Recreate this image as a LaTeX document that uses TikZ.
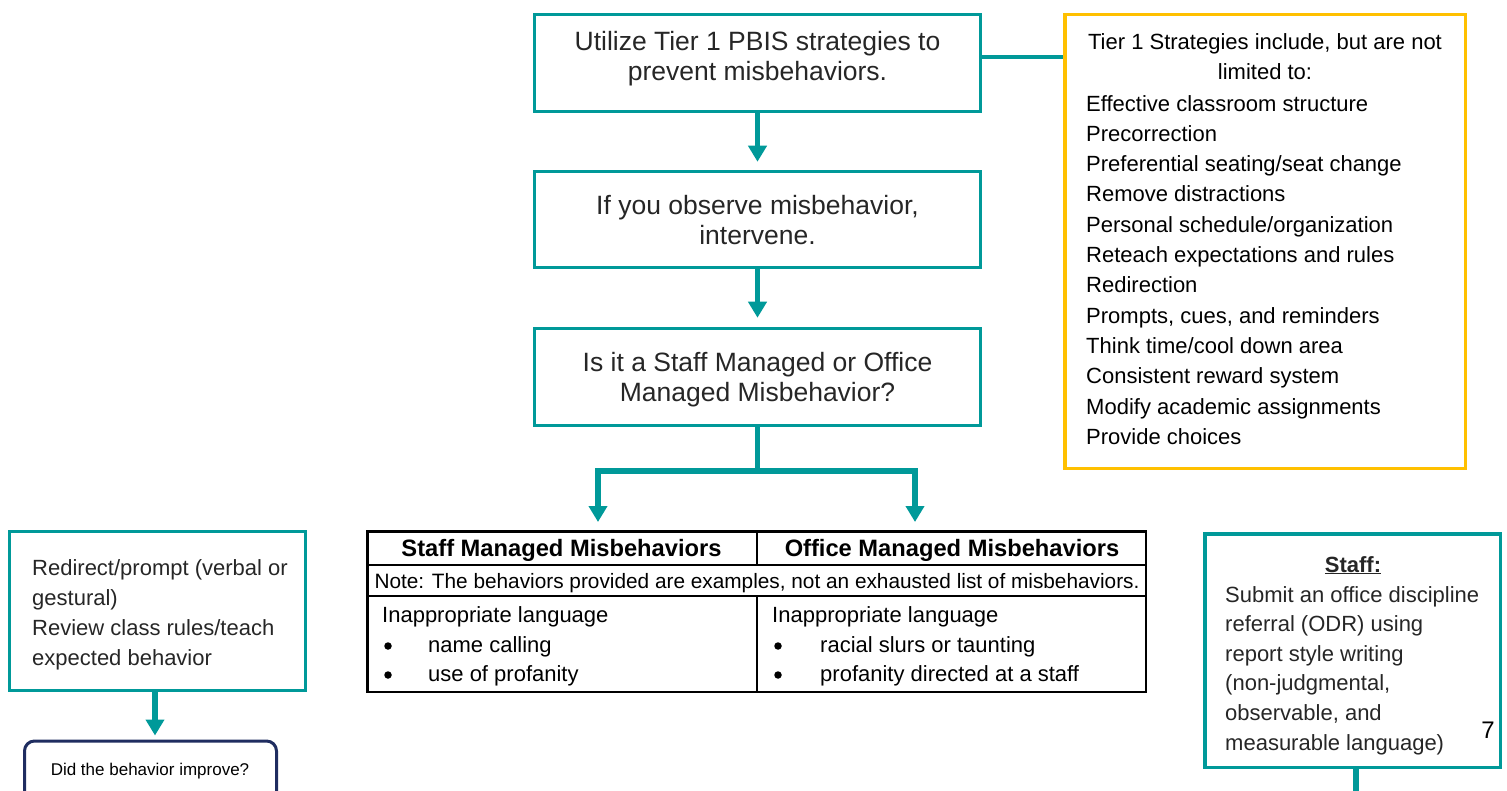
\documentclass[tikz,border=0pt]{standalone}
\usepackage{fontspec}
\setmainfont{Liberation Sans}
\usetikzlibrary{arrows.meta,calc}
\definecolor{teal1}{RGB}{0,153,153}
\definecolor{gold1}{RGB}{255,192,0}
\definecolor{navy1}{RGB}{31,45,96}
\definecolor{txt}{RGB}{38,38,38}
\newcommand{\fsz}[2]{\fontsize{#1}{#2}\selectfont}
\begin{document}
\begin{tikzpicture}[x=1pt,y=-1pt,
  tbox/.style={draw=teal1, line width=3.5pt, minimum width=446pt, minimum height=97pt, inner sep=0pt},
  gbox/.style={draw=gold1, line width=3.5pt, inner sep=0pt},
  lbl/.style={inner sep=0pt, text=txt},
  bigtxt/.style={lbl, align=center, anchor=base, font=\fsz{26.5}{30}},
  midtxt/.style={lbl, font=\fsz{22}{30}},
  tbltxt/.style={inner sep=0pt, text=black, font=\fsz{22}{30}},
  dot/.style={circle, fill=black, inner sep=0pt, minimum size=7.5pt},
  arr/.style={draw=teal1, line width=5.5pt, -{Triangle[width=18pt,length=16pt]}},
  tline/.style={draw=black, line width=2.5pt},
  conn/.style={draw=teal1, line width=5.5pt}
]
\useasboundingbox (0,0) rectangle (1507,791);

% central flow (multi-line nodes: base = last line's baseline)
\node[tbox] (b1) at (757.5,63) {};
\node[bigtxt] (t1) at (757.5,81) {Utilize Tier 1 PBIS strategies to\\prevent misbehaviors.};
\node[tbox, minimum height=96pt] (b2) at (757.5,219.5) {};
\node[bigtxt] (t2) at (757.5,245) {If you observe misbehavior,\\intervene.};
\node[tbox] (b3) at (757.5,377) {};
\node[bigtxt] (t3) at (757.5,401) {Is it a Staff Managed or Office\\Managed Misbehavior?};

\draw[arr] (b1.south) -- ([yshift=8pt]b2.north);
\draw[arr] (b2.south) -- ([yshift=9pt]b3.north);

% Tier 1 strategies box
\node[gbox, minimum width=400.5pt, minimum height=453.5pt] (yb) at (1265,241.5) {};
\node[lbl, align=center, anchor=base, font=\fsz{22}{30}, text=black] (yt) at (1265,80)
  {Tier 1 Strategies include, but are not\\limited to:};
\node[lbl, align=left, anchor=base west, font=\fsz{22}{30.3}, text=black] (yl) at (1086,444.3)
  {Effective classroom structure\\Precorrection\\Preferential seating/seat change\\Remove distractions\\Personal schedule/organization\\Reteach expectations and rules\\Redirection\\Prompts, cues, and reminders\\Think time/cool down area\\Consistent reward system\\Modify academic assignments\\Provide choices};
\draw[teal1, line width=4.5pt] ([yshift=6pt]b1.east) -- ([yshift=6pt]b1.east -| yb.west);

% table
\node[draw=black, line width=2.5pt, minimum width=778.5pt, minimum height=160.5pt, inner sep=0pt] (tbl) at (756.5,611.5) {};
\draw[tline] (366,565) -- (1147,565);
\draw[tline] (366,596) -- (1147,596);
\draw[tline] (757,530) -- (757,565);
\draw[tline] (757,596) -- (757,693);
\node[inner sep=0pt, anchor=base, font=\bfseries\fsz{23.7}{28}] (h1) at (561.5,556) {Staff Managed Misbehaviors};
\node[inner sep=0pt, anchor=base, font=\bfseries\fsz{23.7}{28}] (h2) at (952,556) {Office Managed Misbehaviors};
\node[inner sep=0pt, anchor=base, font=\fsz{20.8}{26}] (nt) at (757,588) {Note: The behaviors provided are examples, not an exhausted list of misbehaviors.};
\node[tbltxt, anchor=base west] (l1) at (382,622) {Inappropriate language};
\node[dot] (lb1) at (388,646) {};
\node[tbltxt, anchor=base west] (l2) at (428,652) {name calling};
\node[dot] (lb2) at (388,675) {};
\node[tbltxt, anchor=base west] (l3) at (428,681) {use of profanity};
\node[tbltxt, anchor=base west] (r1) at (772,622) {Inappropriate language};
\node[dot] (rb1) at (778,646) {};
\node[tbltxt, anchor=base west] (r2) at (820,652) {racial slurs or taunting};
\node[dot] (rb2) at (778,675) {};
\node[tbltxt, anchor=base west] (r3) at (820,681) {profanity directed at a staff};

% split connector
\coordinate (j) at (757.5,471);
\coordinate (jl) at (598,471);
\coordinate (jr) at (915,471);
\draw[arr] (b3.south) -- (j) -- (jl) -- ([yshift=8pt]jl |- tbl.north);
\draw[arr] (j) -- (jr) -- ([yshift=8pt]jr |- tbl.north);

% left branch
\node[draw=teal1, line width=3.5pt, minimum width=296pt, minimum height=159pt, inner sep=0pt] (lb) at (157.5,611) {};
\node[midtxt, align=left, anchor=base west] (lt) at (32,665)
  {Redirect/prompt (verbal or\\gestural)\\Review class rules/teach\\expected behavior};
\node[draw=navy1, line width=3pt, rounded corners=10pt, minimum width=252pt, minimum height=60pt, inner sep=0pt] (rb) at (150.5,771) {};
\node[lbl, anchor=base, font=\fsz{17}{20}, text=black] (rt) at (150,775) {Did the behavior improve?};
\draw[arr] ([xshift=-2.5pt]lb.south) -- ([xshift=4.5pt,yshift=4pt]rb.north);

% right branch
\node[draw=teal1, line width=3.5pt, minimum width=295.5pt, minimum height=233.5pt, inner sep=0pt] (sb) at (1352.5,650.5) {};
\node[lbl, anchor=base, font=\bfseries\fsz{22}{30}] (st) at (1353,572) {\underline{Staff:}};
\node[lbl, align=left, anchor=base west, font=\fsz{22}{29.6}] (sl) at (1225,750)
  {Submit an office discipline\\referral (ODR) using\\report style writing\\(non-judgmental,\\observable, and\\measurable language)};
\node[inner sep=0pt, anchor=base, font=\fsz{24}{28}] (pg) at (1488,738) {7};
\coordinate (send) at (1356,800);
\draw[conn] ([xshift=3.5pt]sb.south) -- (send);
\end{tikzpicture}
\end{document}
